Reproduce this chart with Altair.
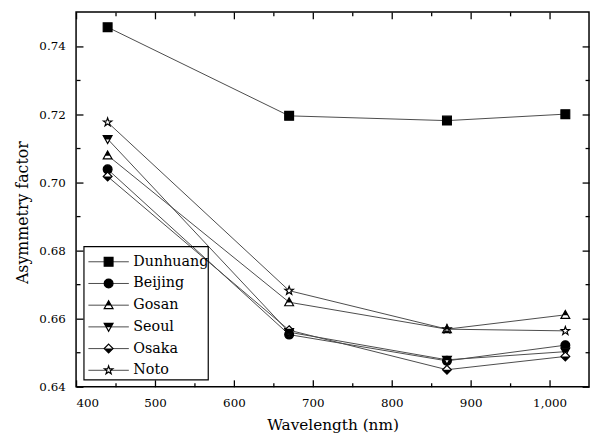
import altair as alt
import pandas as pd

# ---- data ----
sites = ["Dunhuang", "Beijing", "Gosan", "Seoul", "Osaka", "Noto"]
wavelengths = [440, 670, 870, 1020]
dunhuang = [0.7455, 0.7195, 0.7181, 0.7200]
beijing = [0.7038, 0.6553, 0.6476, 0.6522]
gosan = [0.7079, 0.6648, 0.6569, 0.6611]
seoul = [0.7127, 0.6560, 0.6479, 0.6503]
osaka = [0.7017, 0.6566, 0.6450, 0.6489]
noto = [0.7176, 0.6682, 0.6569, 0.6564]
series = [dunhuang, beijing, gosan, seoul, osaka, noto]

x_major = [400, 500, 600, 700, 800, 900, 1000]
x_minor = [450, 550, 650, 750, 850, 950]
y_major = [0.64, 0.66, 0.68, 0.70, 0.72, 0.74]
y_minor = [0.65, 0.67, 0.69, 0.71, 0.73]

# ---- marker styles (unit paths) ----
SQUARE = "M-1,-1L1,-1L1,1L-1,1Z"
TRI_UP = "M0,-1L1,0.8L-1,0.8Z"
TRI_UP_HALF = "M0,-1L0.6,0.08L-0.6,0.08Z"
TRI_DN = "M-1,-0.8L1,-0.8L0,1Z"
TRI_DN_HALF = "M-1,-0.8L1,-0.8L0.5,0.1L-0.5,0.1Z"
DIAM = "M0,-1L1,0L0,1L-1,0Z"
DIAM_HALF = "M-1,0L1,0L0,1Z"
STAR = ("M0,-1L0.235,-0.324L0.951,-0.309L0.380,0.124L0.588,0.809L0,0.4"
        "L-0.588,0.809L-0.380,0.124L-0.951,-0.309L-0.235,-0.324Z")
style = {
    "Dunhuang": (SQUARE, "black", ""),
    "Beijing": ("circle", "black", ""),
    "Gosan": (TRI_UP, "white", TRI_UP_HALF),
    "Seoul": (TRI_DN, "white", TRI_DN_HALF),
    "Osaka": (DIAM, "white", DIAM_HALF),
    "Noto": (STAR, "white", ""),
}

rows = []
for s, vals in zip(sites, series):
    for w, v in zip(wavelengths, vals):
        shp, fc, half = style[s]
        rows.append({"site": s, "wavelength": w, "value": v,
                     "shp": shp, "fc": fc, "half": half})
df = pd.DataFrame(rows)

leg = pd.DataFrame([{"site": s, "shp": style[s][0], "fc": style[s][1],
                     "half": style[s][2]} for s in sites])

FONT = "DejaVu Serif"
MS = 80
xs = alt.Scale(domain=[400, 1050], nice=False, zero=False)
ys = alt.Scale(domain=[0.64, 0.75], nice=False, zero=False)

base = alt.Chart(df)


def xy(xaxis=None, yaxis=None):
    return dict(
        x=alt.X("wavelength:Q", scale=xs, axis=xaxis),
        y=alt.Y("value:Q", scale=ys, axis=yaxis),
    )


lines = base.mark_line(color="#4a4a4a", strokeWidth=1).encode(
    detail="site:N",
    **xy(
        alt.Axis(orient="bottom", values=x_major, ticks=False, domain=False, grid=False,
                 labelFont=FONT, labelFontSize=12, labelColor="black", labelPadding=11,
                 title="Wavelength (nm)", titleFont=FONT, titleFontSize=15.5,
                 titleFontWeight="normal", titleColor="black", titlePadding=9),
        alt.Axis(orient="left", values=y_major, format=".2f", ticks=False, domain=False,
                 grid=False, labelFont=FONT, labelFontSize=12, labelColor="black",
                 labelPadding=11, title="Asymmetry factor", titleFont=FONT,
                 titleFontSize=16, titleFontWeight="normal", titleColor="black",
                 titlePadding=9, titleY=203),
    ),
)

outline = base.mark_point(filled=True, stroke="black", strokeWidth=1.2, opacity=1,
                          size=MS).encode(
    shape=alt.Shape("shp:N", scale=None),
    fill=alt.Fill("fc:N", scale=None),
    **xy(),
)
halves = base.transform_filter("datum.half != ''").mark_point(
    filled=True, strokeWidth=0, opacity=1, size=MS, color="black").encode(
    shape=alt.Shape("half:N", scale=None),
    **xy(),
)


def tick_axis(orient, values, size):
    return alt.Axis(orient=orient, values=values, tickSize=size, offset=-size,
                    tickWidth=1.3, tickColor="black", labels=False, domain=False,
                    grid=False, title="")


tick_layers = []
for xo, yo in [("bottom", "left"), ("top", "right")]:
    tick_layers.append(base.mark_point(opacity=0).encode(
        **xy(tick_axis(xo, x_major, 7), tick_axis(yo, y_major, 7))))
    tick_layers.append(base.mark_point(opacity=0).encode(
        **xy(tick_axis(xo, x_minor, 4), tick_axis(yo, y_minor, 4))))

main = alt.layer(lines, outline, halves, *tick_layers).resolve_axis(
    x="independent", y="independent")

# ---- legend drawn inside the plot ----
lbase = alt.Chart(leg)
ly = alt.Y("site:N", sort=sites, axis=None,
           scale=alt.Scale(type="point", domain=sites, range=[253.3, 363.3], padding=0))
box = alt.Chart(pd.DataFrame({"a": [0]})).mark_rect(
    fillOpacity=0, stroke="black", strokeWidth=1.2).encode(
    x=alt.value(8), x2=alt.value(134), y=alt.value(238), y2=alt.value(373))
lrule = lbase.mark_rule(color="#4a4a4a", strokeWidth=1).encode(
    x=alt.value(12.5), x2=alt.value(53.5), y=ly)
lout = lbase.mark_point(filled=True, stroke="black", strokeWidth=1.2, opacity=1,
                        size=MS).encode(
    x=alt.value(33), y=ly, shape=alt.Shape("shp:N", scale=None),
    fill=alt.Fill("fc:N", scale=None))
lhalf = lbase.transform_filter("datum.half != ''").mark_point(
    filled=True, strokeWidth=0, opacity=1, size=MS, color="black").encode(
    x=alt.value(33), y=ly, shape=alt.Shape("half:N", scale=None))
ltext = lbase.mark_text(align="left", baseline="middle", font=FONT, fontSize=14.5,
                        color="black").encode(x=alt.value(58), y=ly, text="site:N")
legend = alt.layer(box, lrule, lout, lhalf, ltext)

chart = alt.layer(main, legend).resolve_scale(y="independent").properties(
    width=520, height=380,
    autosize=alt.AutoSizeParams(type="none"),
    padding={"left": 69, "top": 1, "right": 1, "bottom": 50},
    background="white",
).configure_view(stroke="black", strokeWidth=1.5)

chart.save("out.html", embed_options={"renderer": "svg", "actions": False})
